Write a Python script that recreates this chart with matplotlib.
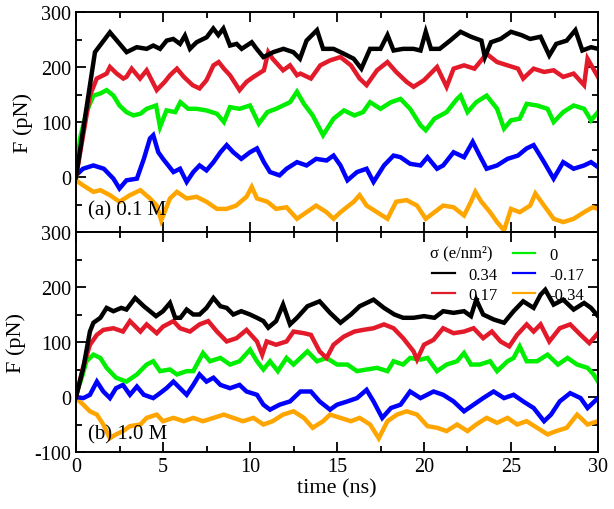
import matplotlib
matplotlib.use("Agg")
import matplotlib.pyplot as plt
from matplotlib.lines import Line2D
from matplotlib.ticker import MultipleLocator

# ---------------- data ----------------
series_labels = ["0.34", "0.17", "0", "-0.17", "-0.34"]
series_colors = ["#000000", "#e31a2a", "#00ee00", "#0000ff", "#ffa500"]

# panel (a) 0.1 M
a_t_034 = [0, 1.09, 1.95, 2.43, 2.91, 3.49, 4.06, 4.44, 4.83, 5.21, 5.59, 5.98, 6.26, 6.55, 6.93, 7.51, 7.89, 8.18, 8.47, 8.85, 9.23, 9.52, 10.1, 10.38, 10.77, 11.34, 11.92, 12.49, 12.87, 13.25, 13.85, 14.2, 14.8, 15.4, 15.96, 16.4, 16.9, 17.5, 17.9, 18.25, 18.8, 19.4, 19.8, 20.1, 20.4, 20.9, 21.5, 22.1, 22.7, 23.3, 23.5, 23.85, 24.4, 25.0, 25.6, 26.1, 26.7, 27.2, 27.6, 28.2, 28.7, 29.1, 29.6, 30.0]
a_f_034 = [0, 227, 263, 245, 227, 236, 233, 239, 233, 248, 251, 242, 257, 233, 245, 254, 270, 258, 270, 239, 242, 233, 245, 233, 218, 227, 233, 227, 215, 248, 267, 233, 233, 224, 215, 197, 233, 233, 258, 230, 233, 233, 230, 264, 233, 233, 248, 264, 255, 248, 218, 245, 251, 264, 258, 251, 255, 221, 242, 248, 267, 230, 236, 233]

a_t_017 = [0, 0.8, 1.19, 1.76, 1.95, 2.34, 2.72, 2.9, 3.2, 3.68, 4.06, 4.64, 5.1, 5.4, 5.8, 6.2, 6.7, 7.1, 7.5, 7.9, 8.2, 8.5, 8.85, 9.4, 9.8, 10.2, 10.8, 11.05, 11.3, 11.9, 12.3, 12.7, 12.9, 13.5, 14.04, 14.6, 15.2, 15.8, 16.3, 16.7, 17.3, 17.9, 18.4, 19.0, 19.4, 20.0, 20.75, 21.3, 21.7, 22.3, 22.9, 23.6, 24.2, 24.8, 25.4, 25.7, 26.3, 26.9, 27.45, 28.0, 28.6, 29.2, 29.4, 30.0]
a_f_017 = [0, 148, 179, 188, 200, 188, 179, 182, 197, 179, 194, 158, 173, 185, 197, 182, 167, 161, 176, 203, 209, 197, 185, 158, 173, 182, 194, 227, 215, 194, 203, 185, 188, 179, 203, 212, 218, 203, 179, 167, 194, 209, 191, 173, 164, 176, 200, 164, 197, 203, 197, 224, 209, 203, 197, 179, 197, 191, 194, 182, 188, 167, 215, 182]

a_t_0 = [0, 0.23, 0.6, 1.0, 1.4, 1.76, 2.15, 2.5, 2.9, 3.3, 3.7, 4.06, 4.6, 4.83, 5.2, 5.7, 6.0, 6.45, 6.93, 7.5, 8.1, 8.5, 8.85, 9.4, 10.0, 10.5, 11.0, 11.5, 12.3, 12.7, 13.1, 13.6, 14.2, 14.8, 15.4, 16.0, 16.5, 16.9, 17.5, 18.1, 18.65, 19.2, 19.8, 20.1, 20.6, 21.3, 21.9, 22.1, 22.5, 23.0, 23.6, 24.2, 24.6, 25.0, 25.5, 25.9, 26.5, 27.1, 27.45, 28.0, 28.6, 29.2, 29.6, 30.0]
a_f_0 = [0, 70, 118, 148, 152, 158, 148, 130, 118, 112, 115, 124, 130, 91, 121, 118, 136, 124, 124, 121, 115, 100, 127, 124, 130, 97, 118, 124, 136, 155, 133, 112, 76, 106, 121, 112, 118, 136, 124, 136, 142, 124, 94, 85, 106, 118, 142, 148, 118, 136, 148, 124, 88, 103, 106, 133, 130, 124, 100, 118, 130, 124, 103, 118]

a_t_m017 = [0, 0.4, 1.0, 1.6, 2.15, 2.5, 2.9, 3.5, 3.9, 4.25, 4.44, 4.73, 5.0, 5.6, 5.98, 6.36, 6.74, 7.1, 7.5, 7.9, 8.3, 8.66, 9.04, 9.5, 10.0, 10.4, 10.8, 11.15, 11.7, 12.1, 12.7, 13.25, 13.8, 14.4, 14.8, 15.2, 15.6, 16.15, 16.7, 17.1, 17.7, 18.25, 18.65, 19.2, 19.8, 20.2, 20.75, 21.1, 21.7, 22.3, 22.8, 23.2, 23.6, 24.2, 24.8, 25.4, 25.9, 26.3, 26.9, 27.45, 28.0, 28.6, 29.2, 29.6, 30.0]
a_f_m017 = [3, 15, 21, 15, -3, -21, -6, -3, 33, 70, 76, 45, 33, 9, 15, -9, 9, 21, 12, 27, 45, 58, 45, 33, 45, 52, 27, 9, 3, 15, 27, 21, 33, 30, 39, 21, -6, 9, 15, -9, 21, 39, 36, 24, 21, 36, 15, 21, 45, 36, 64, 39, 15, 21, 33, 39, 52, 58, 27, -3, 27, 15, 21, 27, 18]

a_t_m034 = [0, 0.4, 1.0, 1.4, 1.95, 2.5, 3.1, 3.7, 4.25, 4.64, 4.9, 5.4, 5.8, 6.36, 6.93, 7.5, 8.1, 8.66, 9.2, 9.8, 10.1, 10.4, 11.0, 11.5, 12.1, 12.7, 13.25, 13.8, 14.4, 14.8, 15.2, 15.96, 16.3, 16.7, 17.3, 17.9, 18.4, 19.0, 19.6, 20.1, 20.6, 21.1, 21.7, 22.3, 22.7, 22.95, 23.3, 23.8, 24.2, 24.6, 25.0, 25.5, 26.1, 26.4, 26.9, 27.45, 28.0, 28.6, 29.2, 29.7, 30.0]
a_f_m034 = [-6, -15, -27, -24, -33, -45, -33, -24, -39, -52, -79, -39, -27, -39, -36, -45, -58, -58, -52, -36, -18, -39, -45, -58, -55, -76, -64, -52, -64, -76, -64, -45, -33, -52, -64, -76, -45, -42, -52, -76, -64, -52, -55, -70, -45, -27, -45, -64, -82, -97, -58, -64, -52, -30, -52, -76, -82, -76, -64, -55, -58]

# panel (b) 1.0 M
b_t_034 = [0, 0.42, 0.8, 1.0, 1.4, 1.76, 2.15, 2.6, 2.9, 3.4, 3.9, 4.25, 4.6, 5.0, 5.4, 5.7, 6.0, 6.36, 6.74, 7.1, 7.5, 7.9, 8.3, 8.66, 9.04, 9.5, 10.0, 10.4, 10.77, 11.05, 11.5, 11.9, 12.3, 12.7, 13.3, 14.0, 14.6, 15.2, 15.8, 16.3, 17.1, 17.7, 18.3, 18.8, 19.4, 20.0, 20.6, 21.1, 21.7, 22.3, 22.7, 23.0, 23.4, 24.0, 24.6, 25.15, 25.7, 26.3, 26.7, 26.97, 27.45, 28.0, 28.6, 29.2, 29.6, 30.0]
b_f_034 = [0, 53, 119, 135, 144, 162, 156, 162, 159, 180, 165, 156, 147, 156, 171, 144, 144, 159, 150, 150, 162, 180, 165, 162, 150, 156, 150, 144, 138, 126, 138, 168, 132, 144, 165, 174, 153, 135, 150, 165, 177, 162, 150, 144, 144, 147, 144, 156, 153, 156, 147, 177, 150, 141, 135, 156, 174, 162, 186, 195, 168, 177, 159, 171, 162, 147]

b_t_017 = [0, 0.4, 0.8, 1.2, 1.57, 2.15, 2.7, 3.1, 3.7, 4.06, 4.64, 5.0, 5.6, 5.98, 6.55, 7.1, 7.6, 8.1, 8.66, 9.23, 9.8, 10.4, 10.7, 10.96, 11.5, 12.1, 12.5, 13.1, 13.5, 14.0, 14.4, 14.8, 15.4, 16.0, 16.5, 17.1, 17.7, 18.25, 18.8, 19.4, 19.6, 20.0, 20.55, 21.1, 21.7, 22.3, 22.85, 23.4, 23.9, 24.4, 24.9, 25.35, 25.9, 26.3, 26.7, 27.2, 27.8, 28.4, 29.0, 29.5, 30.0]
b_f_017 = [0, 53, 95, 113, 122, 125, 119, 138, 119, 132, 116, 128, 138, 125, 119, 132, 138, 119, 101, 107, 122, 101, 77, 101, 95, 101, 119, 116, 113, 83, 71, 95, 110, 119, 122, 125, 132, 125, 107, 83, 68, 95, 104, 125, 116, 119, 125, 107, 119, 101, 92, 113, 132, 119, 132, 101, 125, 132, 113, 98, 116]

b_t_0 = [0, 0.33, 0.6, 1.0, 1.4, 1.76, 2.3, 2.9, 3.5, 4.06, 4.44, 4.83, 5.4, 5.8, 6.36, 6.74, 7.3, 7.7, 8.3, 8.85, 9.4, 10.0, 10.4, 10.77, 11.15, 11.6, 12.1, 12.5, 13.3, 13.85, 14.4, 15.0, 15.6, 16.15, 16.7, 17.3, 17.9, 18.25, 18.8, 19.2, 19.8, 20.2, 20.75, 21.3, 21.9, 22.3, 22.7, 23.2, 23.8, 24.2, 24.8, 25.15, 25.5, 25.9, 26.5, 27.1, 27.7, 28.25, 28.8, 29.4, 29.75, 30.0]
b_f_0 = [4, 35, 65, 77, 71, 53, 35, 28, 41, 59, 65, 47, 50, 41, 47, 47, 80, 65, 71, 59, 65, 86, 65, 50, 65, 47, 71, 59, 83, 65, 71, 59, 59, 47, 50, 53, 47, 65, 59, 71, 68, 71, 47, 59, 65, 80, 59, 59, 65, 47, 65, 71, 92, 65, 65, 77, 59, 71, 59, 53, 41, 28]

b_t_m017 = [0, 0.42, 0.8, 1.2, 1.57, 1.95, 2.3, 2.7, 3.1, 3.5, 3.9, 4.44, 4.83, 5.2, 5.6, 5.98, 6.36, 6.74, 7.1, 7.5, 7.9, 8.3, 8.85, 9.4, 9.8, 10.4, 10.77, 11.15, 11.7, 12.3, 12.9, 13.5, 14.0, 14.6, 15.0, 15.6, 16.15, 16.7, 17.1, 17.6, 18.1, 18.65, 19.2, 19.8, 20.55, 21.1, 21.7, 22.3, 22.85, 23.4, 24.0, 24.6, 25.15, 25.7, 26.3, 26.9, 27.3, 27.8, 28.4, 29.0, 29.4, 30.0]
b_f_m017 = [0, -2, 4, 28, 10, -2, 16, 22, 4, 19, 4, -2, 7, 16, 28, 16, 4, 22, 41, 28, 35, 22, 16, 22, 10, 4, -14, -23, -14, -8, 10, 10, -8, -23, -14, -8, -2, 13, -8, -38, -20, -14, 10, -2, 10, 4, -8, -26, -14, -2, 10, -2, 4, -8, -20, -44, -32, -8, 7, -2, -20, -2]

b_t_m034 = [0, 0.42, 0.8, 1.2, 1.57, 1.95, 2.3, 2.7, 3.1, 3.7, 4.06, 4.64, 5.0, 5.6, 6.2, 6.74, 7.3, 7.9, 8.5, 9.04, 9.6, 10.2, 10.77, 11.3, 11.9, 12.5, 13.1, 13.6, 14.2, 14.6, 15.2, 15.8, 16.3, 16.9, 17.4, 17.9, 18.45, 19.0, 19.6, 20.2, 20.75, 21.3, 21.9, 22.5, 23.0, 23.6, 24.2, 24.8, 25.35, 25.9, 26.5, 27.1, 27.6, 28.2, 28.8, 29.4, 30.0]
b_f_m034 = [-2, -14, -26, -32, -50, -75, -68, -62, -53, -50, -38, -32, -44, -38, -44, -38, -44, -38, -32, -38, -44, -38, -50, -44, -32, -26, -38, -56, -44, -32, -38, -44, -38, -50, -75, -44, -32, -26, -32, -53, -56, -62, -50, -62, -50, -38, -47, -38, -50, -44, -56, -68, -62, -56, -32, -50, -44]

x_ticks = [0, 5, 10, 15, 20, 25, 30]
y_ticks = [-100, 0, 100, 200, 300]
top_ytick_labels = ["", "0", "100", "200", "300"]
bot_ytick_labels = ["-100", "0", "100", "200", "300"]
panel_texts = ["(a) 0.1 M", "(b) 1.0 M"]
legend_title = "σ (e/nm²)"

# ---------------- figure ----------------
plt.rcParams["font.family"] = ["Liberation Serif", "DejaVu Serif"]

fig = plt.figure(figsize=(6.14, 5.10), dpi=100)
L, R = 76 / 614, 598 / 614
ax_top = fig.add_axes([L, 1 - 233 / 510, R - L, 220 / 510])
ax_bot = fig.add_axes([L, 1 - 453 / 510, R - L, 220 / 510], sharex=ax_top)

panels = [
    (ax_top, [(a_t_034, a_f_034), (a_t_017, a_f_017), (a_t_0, a_f_0),
              (a_t_m017, a_f_m017), (a_t_m034, a_f_m034)]),
    (ax_bot, [(b_t_034, b_f_034), (b_t_017, b_f_017), (b_t_0, b_f_0),
              (b_t_m017, b_f_m017), (b_t_m034, b_f_m034)]),
]

lw_data = 3.2
for ax, data in panels:
    # draw in reverse order so black is on top
    for (t, f), c in reversed(list(zip(data, series_colors))):
        ax.plot(t, f, color=c, lw=lw_data, solid_joinstyle="miter")
    ax.set_xlim(0, 30)
    ax.set_ylim(-100, 300)
    ax.set_yticks(y_ticks)
    ax.xaxis.set_minor_locator(MultipleLocator(2.5))
    ax.yaxis.set_minor_locator(MultipleLocator(50))
    ax.tick_params(which="both", direction="in", top=True, right=True,
                   width=1.3, labelsize=14.5)
    ax.tick_params(which="major", length=7)
    ax.tick_params(which="minor", length=4.5)
    for s in ax.spines.values():
        s.set_linewidth(1.4)
    ax.set_ylabel("F (pN)", fontsize=16, labelpad=6)

ax_top.set_yticklabels(top_ytick_labels)
ax_bot.set_yticklabels(bot_ytick_labels)
ax_top.tick_params(labelbottom=False)
ax_bot.set_xticks(x_ticks)
ax_bot.set_xticklabels([str(v) for v in x_ticks])
ax_bot.set_xlabel("time (ns)", fontsize=16, labelpad=2)

ax_top.text(0.023, 0.10, panel_texts[0], transform=ax_top.transAxes,
            fontsize=15, va="center", ha="left")
ax_bot.text(0.023, 0.082, panel_texts[1], transform=ax_bot.transAxes,
            fontsize=15, va="center", ha="left")

# legend
handles = [Line2D([], [], color="none")] + [
    Line2D([], [], color=c, lw=1.6) for c in series_colors]
labels = [""] + series_labels
leg = ax_bot.legend(handles, labels, ncol=2, frameon=False, fontsize=12,
                    loc="upper left", bbox_to_anchor=(0.676, 0.948),
                    handlelength=1.35, handletextpad=0.85, columnspacing=0.87,
                    labelspacing=0.25, borderpad=0.2, borderaxespad=0)
ax_bot.text(0.678, 0.909, legend_title, transform=ax_bot.transAxes,
            fontsize=12, va="center", ha="left")

fig.savefig("out.png", dpi=100)
